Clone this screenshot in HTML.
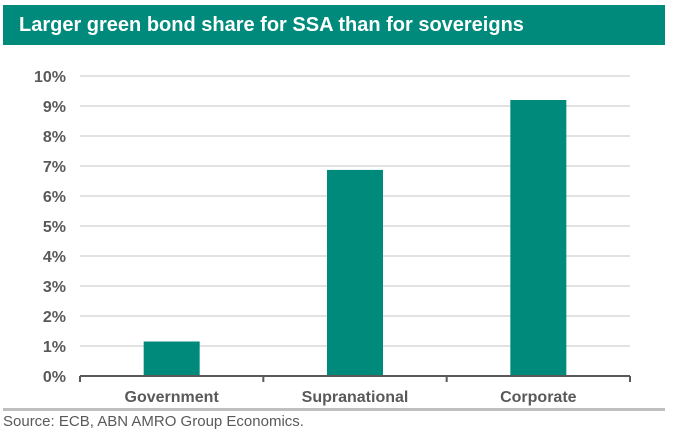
<!DOCTYPE html>
<html><head><meta charset="utf-8"><style>
body{margin:0;background:#fff;width:673px;height:434px;overflow:hidden;font-family:"Liberation Sans",sans-serif}
#title{position:absolute;left:3px;top:5px;width:662px;height:40px;background:#008a7c;color:#fff;font-weight:bold;font-size:20px;line-height:40px;padding-left:16px;box-sizing:border-box}
#src{position:absolute;left:3px;top:413px;font-size:15px;color:#595959}
#sep{position:absolute;left:3px;top:408px;width:662px;height:3px;background:#bfbfbf}
</style></head><body>
<div id="title">Larger green bond share for SSA than for sovereigns</div>
<svg id="chart" width="673" height="434" style="position:absolute;left:0;top:0"></svg>
<div id="sep"></div>
<div id="src">Source: ECB, ABN AMRO Group Economics.</div>
<script>
const categories=["Government","Supranational","Corporate"];
const values=[1.15,6.87,9.2];
const tickValues=[0,1,2,3,4,5,6,7,8,9,10];
const tickLabels=["0%","1%","2%","3%","4%","5%","6%","7%","8%","9%","10%"];
const svg=document.getElementById('chart');
const NS='http://www.w3.org/2000/svg';
const x0=80,x1=630,y0=376,y1=76;
const y=v=>y0-(v/10)*(y0-y1);
const band=(x1-x0)/categories.length;
const xc=i=>x0+band*(i+0.5);
function mk(t,a){const e=document.createElementNS(NS,t);for(const k in a)e.setAttribute(k,a[k]);svg.appendChild(e);return e;}
tickValues.forEach((v,i)=>{
 if(v>0){const g=mk('line',{x1:x0,x2:x1,y1:y(v),y2:y(v),stroke:'#d9d9d9','stroke-width':1.5});
 
 }
 const t=mk('text',{x:66,y:y(v)+6,'text-anchor':'end','font-size':16,'font-weight':'bold',fill:'#595959','font-family':'Liberation Sans,sans-serif'});
 t.textContent=tickLabels[i];
 
 
});
categories.forEach((c,i)=>{
 const r=mk('rect',{x:xc(i)-28,width:56,y:y(values[i]),height:y0-y(values[i]),fill:'#008a7c'});
 
 
 const t=mk('text',{x:xc(i),y:402,'text-anchor':'middle','font-size':16,'font-weight':'bold',fill:'#595959','font-family':'Liberation Sans,sans-serif'});
 t.textContent=c;
 
 
});
const ax=mk('line',{x1:x0,x2:x1,y1:y0,y2:y0,stroke:'#595959','stroke-width':2});


for(let i=0;i<=categories.length;i++){
 const tk=mk('line',{x1:x0+band*i,x2:x0+band*i,y1:y0,y2:y0+6,stroke:'#595959','stroke-width':2});
 
 
}
</script>
</body></html>
